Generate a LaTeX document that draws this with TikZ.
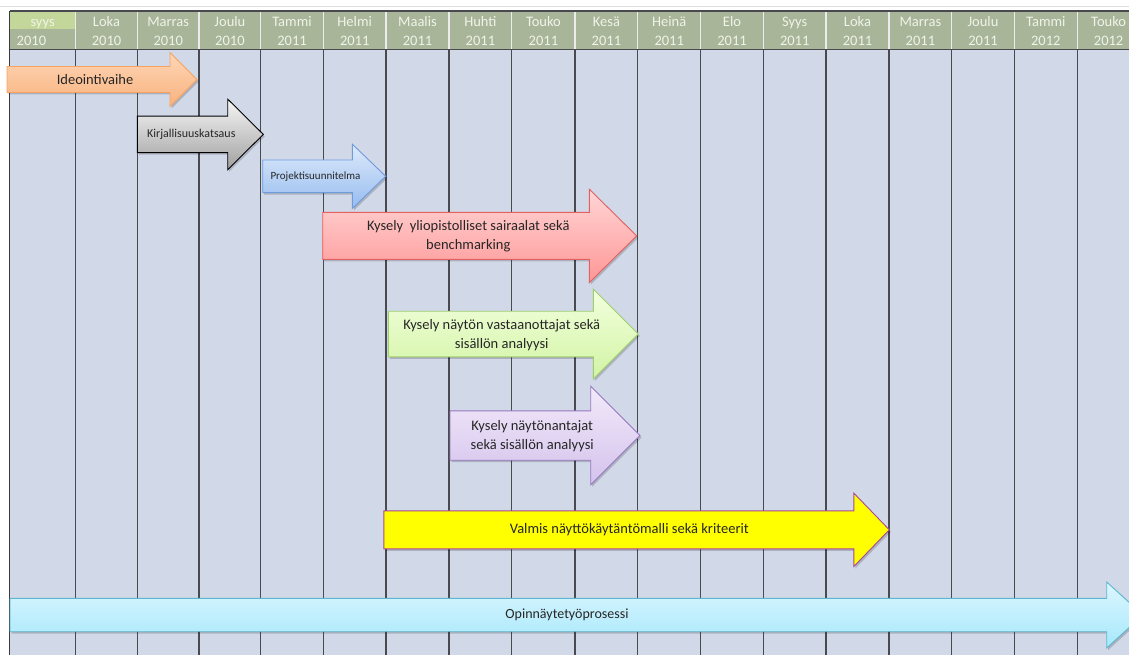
\documentclass[tikz,border=0pt]{standalone}
\usepackage{fontspec}
\setmainfont{Carlito}
\usetikzlibrary{shadows}

\definecolor{hdrgreen}{RGB}{168,181,152}
\definecolor{hdrlight}{RGB}{196,215,155}
\definecolor{hdrtext}{RGB}{240,243,234}
\definecolor{cellblue}{RGB}{209,217,233}
\definecolor{gridgray}{RGB}{72,74,80}
\definecolor{ideatop}{RGB}{253,214,182}
\definecolor{ideabot}{RGB}{249,178,126}
\definecolor{ideaedge}{RGB}{246,163,98}
\definecolor{littop}{RGB}{246,246,246}
\definecolor{litbot}{RGB}{160,160,160}
\definecolor{plantop}{RGB}{222,234,250}
\definecolor{planbot}{RGB}{150,188,240}
\definecolor{planedge}{RGB}{110,155,220}
\definecolor{redtop}{RGB}{255,214,214}
\definecolor{redbot}{RGB}{255,150,150}
\definecolor{rededge}{RGB}{226,96,96}
\definecolor{greentop}{RGB}{242,255,222}
\definecolor{greenbot}{RGB}{210,244,164}
\definecolor{greenedge}{RGB}{160,205,110}
\definecolor{violettop}{RGB}{242,234,250}
\definecolor{violetbot}{RGB}{212,194,236}
\definecolor{violetedge}{RGB}{150,120,190}
\definecolor{modeledge}{RGB}{170,70,150}
\definecolor{thesistop}{RGB}{220,246,255}
\definecolor{thesisbot}{RGB}{166,232,251}
\definecolor{thesisedge}{RGB}{92,182,206}

\begin{document}
\begin{tikzpicture}[%
  x=1pt,y=-1pt,
  month/.style={font=\fontsize{14.5}{15}\selectfont,text=hdrtext,inner sep=0pt,anchor=base},
  gridline/.style={draw=gridgray,line width=1.1pt},
  hdrline/.style={draw=white!85!gray,line width=1.1pt},
  phase/.style={line width=0.9pt,line join=miter,
    drop shadow={shadow xshift=1.5pt,shadow yshift=-2pt,opacity=0.18,fill=black}},
  phasetext/.style={font=\fontsize{14.5}{19}\selectfont,text=black!85,align=center,inner sep=0pt},
  tinytext/.style={font=\fontsize{12}{14}\selectfont,text=black!85,inner sep=0pt}]
    \useasboundingbox (0,0) rectangle (1129,655);
    \clip (0,0) rectangle (1129,655);
    % Sheet
    \fill[white] (0,0) rectangle (1129,655);
    \draw[gray!25,line width=0.6pt] (0,6) -- (1129,6);
    \fill[cellblue] (9.5,49.3) rectangle (1140,655);
    \fill[hdrgreen] (9.5,11) rectangle (1140,49.3);
    \fill[hdrlight] (9.5,11) rectangle (75.7,29.5);
    % Column lines
    \foreach \x in {75.7,137.3,199,260.7,323.3,386,449,511.7,575,637.7,700.7,763.3,826,889,951.7,1014.3,1077.3}{
      \draw[hdrline] (\x,11) -- (\x,49.3);
      \draw[gridline] (\x,49.3) -- (\x,655);
    }
    \draw[gridgray,line width=1.1pt] (9.5,11) -- (1140,11);
    \draw[gridgray,line width=1.1pt] (9.5,49.3) -- (1140,49.3);
    \draw[gridgray!80!black,line width=1.6pt] (9.5,11) -- (9.5,655);
    % Months
    \node[month] (m1) at (42.6,26.5) {syys};
    \node[month,anchor=base west] (y1) at (16.5,45.5) {2010};
    \foreach \xc/\m/\yr [count=\i from 2] in {106.5/Loka/2010,168.2/Marras/2010,229.9/Joulu/2010,
      292/Tammi/2011,354.7/Helmi/2011,417.5/Maalis/2011,480.4/Huhti/2011,543.4/Touko/2011,
      606.4/Kesä/2011,669.2/Heinä/2011,732/Elo/2011,794.7/Syys/2011,857.5/Loka/2011,
      920.4/Marras/2011,983/Joulu/2011,1045.8/Tammi/2012,1108.6/Touko/2012}{
      \node[month] (m\i) at (\xc,26.5) {\m};
      \node[month] (y\i) at (\xc,45.5) {\yr};
    }
    % Phases
    \foreach \xl/\xb/\xt/\yc/\bw/\hw/\ctop/\cbot/\cedge in {
      7/170/197/79.5/13/27/ideatop/ideabot/ideaedge,
      137.3/227.7/263.3/134.4/18.3/35.3/littop/litbot/black,
      262.7/352.3/385.7/176.3/16.3/32.2/plantop/planbot/planedge,
      322.7/589.3/636.7/235.9/23.5/46.7/redtop/redbot/rededge,
      388.3/593.3/638.3/334/22.8/45/greentop/greenbot/greenedge,
      450/590.7/640/435.5/24.7/49.2/violettop/violetbot/violetedge,
      383.8/853.8/889.3/529.8/19/36.7/yellow/yellow/modeledge,
      10/1106.7/1143/615/16.7/33/thesistop/thesisbot/thesisedge}{
      \path[phase,top color=\ctop,bottom color=\cbot,draw=\cedge]
        (\xl,\yc-\bw) -- (\xb,\yc-\bw) -- (\xb,\yc-\hw) -- (\xt,\yc)
        -- (\xb,\yc+\hw) -- (\xb,\yc+\bw) -- (\xl,\yc+\bw) -- cycle;
    }
    % Phase texts
    \node[phasetext] (idea) at (95,79.5) {Ideointivaihe};
    \node[tinytext] (review) at (191.3,134.5) {Kirjallisuuskatsaus};
    \node[tinytext,font=\fontsize{11}{13}\selectfont] (plan) at (315.5,176.5) {Projektisuunnitelma};
    \node[phasetext] (survey1) at (468.3,236.2) {Kysely~ yliopistolliset sairaalat sekä\\benchmarking};
    \node[phasetext] (survey2) at (501.7,334.8) {Kysely näytön vastaanottajat sekä\\sisällön analyysi};
    \node[phasetext] (survey3) at (532.2,436.5) {Kysely näytönantajat\\sekä sisällön analyysi};
    \node[phasetext] (model) at (629.3,530) {Valmis näyttökäytäntömalli sekä kriteerit};
    \node[phasetext,font=\fontsize{14}{17}\selectfont] (thesis) at (567,615) {Opinnäytetyöprosessi};
\end{tikzpicture}
\end{document}
